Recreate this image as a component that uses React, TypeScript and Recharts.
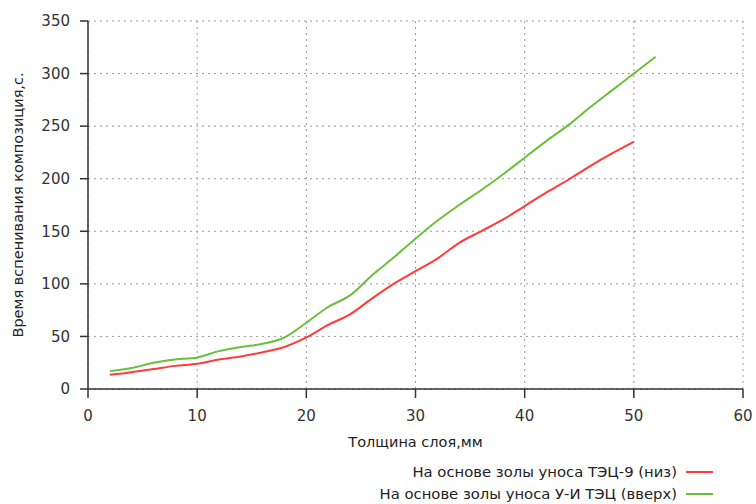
import React from 'react';
import { LineChart, Line, XAxis, YAxis, CartesianGrid } from 'recharts';

// толщина слоя, мм
const thicknessTec9 = [2, 4, 6, 8, 10, 12, 14, 16, 18, 20, 22, 24, 26, 28, 30, 32, 34, 36, 38, 40, 42, 44, 46, 48, 50];
const thicknessUI = [2, 4, 6, 8, 10, 12, 14, 16, 18, 20, 22, 24, 26, 28, 30, 32, 34, 36, 38, 40, 42, 44, 46, 48, 50, 52];

// время вспенивания, с
const timeTec9 = [13.5, 16, 19, 22, 24, 28, 31, 35, 40, 49, 61, 71, 86, 100, 112, 124, 139, 150, 161, 174, 187, 199, 212, 224, 235];
const timeUI = [17, 20, 25, 28, 30, 36, 40, 43, 49, 63, 78, 89, 108, 125, 143, 160, 175, 189, 204, 220, 236, 251, 268, 284, 300, 316];

const xTicks = [0, 10, 20, 30, 40, 50, 60];
const yTicks = [0, 50, 100, 150, 200, 250, 300, 350];

const series = [
  { name: 'На основе золы уноса ТЭЦ-9 (низ)', color: '#ff3b3b', data: thicknessTec9.map((x, i) => ({ x, y: timeTec9[i] })) },
  { name: 'На основе золы уноса У-И ТЭЦ (вверх)', color: '#6cbf3a', data: thicknessUI.map((x, i) => ({ x, y: timeUI[i] })) },
];

const FONT = '"DejaVu Sans", Verdana, sans-serif';
const tickStyle = { fill: '#333', fontSize: 15, fontFamily: FONT };
const labelStyle = { fill: '#222', fontSize: 14.5, fontFamily: FONT };

export default function App() {
  return (
    <div style={{ position: 'absolute', left: 0, top: 0, width: 756, height: 504, background: '#fff' }}>
      <LineChart width={756} height={504} margin={{ top: 21, right: 13, bottom: 55, left: 0 }}>
        <CartesianGrid stroke="#999" strokeDasharray="2 4" />
        <XAxis
          type="number"
          dataKey="x"
          domain={[0, 60]}
          ticks={xTicks}
          height={60}
          tickSize={9}
          tickMargin={12}
          stroke="#333"
          strokeWidth={1.5}
          tick={tickStyle}
          label={{ value: 'Толщина слоя,мм', position: 'insideBottom', offset: 2, style: labelStyle }}
        />
        <YAxis
          type="number"
          dataKey="y"
          domain={[0, 350]}
          ticks={yTicks}
          width={88}
          tickSize={8}
          tickMargin={10}
          stroke="#333"
          strokeWidth={1.5}
          tick={tickStyle}
          label={{ value: 'Время вспенивания композиция,с.', angle: -90, position: 'center', dx: -26, style: labelStyle }}
        />
        {series.map((s) => (
          <Line
            key={s.name}
            data={s.data}
            dataKey="y"
            name={s.name}
            type="monotone"
            stroke={s.color}
            strokeWidth={2}
            dot={false}
            isAnimationActive={false}
          />
        ))}
      </LineChart>
      {/* legend */}
      {series.map((s, i) => (
        <div
          key={s.name}
          style={{ position: 'absolute', right: 756 - 713, top: 463 + i * 22, display: 'flex', alignItems: 'center', fontFamily: FONT, fontSize: 14.8, color: '#222', whiteSpace: 'nowrap' }}
        >
          <span>{s.name}</span>
          <span style={{ display: 'inline-block', width: 27, height: 2, background: s.color, marginLeft: 9 }} />
        </div>
      ))}
    </div>
  );
}
